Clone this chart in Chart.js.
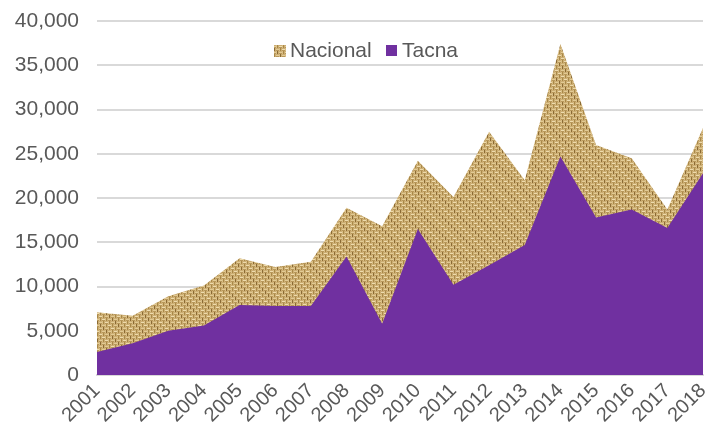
<!DOCTYPE html>
<html>
<head>
<meta charset="utf-8">
<script src="https://cdn.jsdelivr.net/npm/chart.js@4/dist/chart.umd.min.js"></script>
<style>
html,body{margin:0;padding:0;background:#fff;}
#wrap{width:706px;height:436px;position:relative;}
</style>
</head>
<body>
<div id="wrap"><canvas id="c" width="706" height="436"></canvas></div>
<script>
const years = ['2001','2002','2003','2004','2005','2006','2007','2008','2009','2010','2011','2012','2013','2014','2015','2016','2017','2018'];
const nacional = [7100,6700,8900,10100,13200,12200,12800,18900,16800,24200,20100,27500,22000,37400,26000,24500,18700,27900];
const tacna = [2600,3600,5000,5600,7900,7800,7800,13400,5800,16500,10200,12400,14700,24700,17800,18700,16600,22800];
const seriesNames = ['Nacional','Tacna'];

// soft burlap-like woven texture (fixed, deterministic tile)
function makeTexture(){
  const s = 18, c = document.createElement('canvas');
  c.width = s; c.height = s;
  const g = c.getContext('2d');
  g.fillStyle = '#CCAD72'; g.fillRect(0,0,s,s);
  for(let by=0;by<6;by++){
    for(let bx=0;bx<6;bx++){
      const x0=bx*3, y0=by*3;
      if((bx+by)%2===0){
        // horizontal thread on top: light streak
        g.fillStyle = (bx+2*by)%3===0 ? '#EEDCAE' : '#E2CB95';
        g.fillRect(x0, y0+1, 3, 1);
        g.fillStyle = '#B8975A';
        g.fillRect(x0, y0+2, 3, 1);
      } else {
        // vertical thread on top: darker fleck
        g.fillStyle = (2*bx+by)%3===0 ? '#8A6A34' : '#A88848';
        g.fillRect(x0+1, y0, 1, 3);
        g.fillStyle = '#D9BE86';
        g.fillRect(x0, y0, 1, 3);
      }
    }
  }
  return document.getElementById('c').getContext('2d').createPattern(c,'repeat');
}
const tex = makeTexture();
const purple = '#7030A0';

const legendPlugin = {
  id:'customLegend',
  afterDraw(chart){
    const ctx = chart.ctx;
    ctx.save();
    ctx.font = '21px "Liberation Sans", Arial, sans-serif';
    ctx.textBaseline = 'middle';
    ctx.fillStyle = tex; ctx.fillRect(274,45,12,12);
    ctx.fillStyle = '#595959'; ctx.fillText(seriesNames[0], 290, 51);
    ctx.fillStyle = purple; ctx.fillRect(386,45,11,11);
    ctx.fillStyle = '#595959'; ctx.fillText(seriesNames[1], 402, 51);
    ctx.restore();
  }
};

new Chart(document.getElementById('c'), {
  type:'line',
  data:{
    labels: years,
    datasets:[
      {label:seriesNames[0], data:nacional, fill:'origin', backgroundColor:tex, borderWidth:0, pointRadius:0, tension:0, order:2},
      {label:seriesNames[1], data:tacna, fill:'origin', backgroundColor:purple, borderWidth:0, pointRadius:0, tension:0, order:1}
    ]
  },
  options:{
    responsive:false,
    animation:false,
    layout:{padding:{top:21,right:3,left:0,bottom:0}},
    plugins:{legend:{display:false}, tooltip:{enabled:false}},
    scales:{
      x:{
        offset:false,
        grid:{display:false, drawTicks:false},
        border:{display:true, color:'#D9D9D9', width:2},
        ticks:{color:'#595959', font:{family:'"Liberation Sans", Arial, sans-serif', size:20}, minRotation:45, maxRotation:45, padding:4, autoSkip:false},
        afterFit(s){ s.height = 61; s.paddingRight = 0; s.paddingLeft = 0; }
      },
      y:{
        min:0, max:40000,
        grid:{color:'#D9D9D9', lineWidth:2, drawTicks:false},
        border:{display:false},
        ticks:{stepSize:5000, color:'#595959', padding:18, font:{family:'"Liberation Sans", Arial, sans-serif', size:21},
          callback:v=>v.toLocaleString('en-US')},
        afterFit(s){ s.width = 97; s.paddingTop = 0; s.paddingBottom = 0; }
      }
    }
  },
  plugins:[legendPlugin]
});
</script>
</body>
</html>
